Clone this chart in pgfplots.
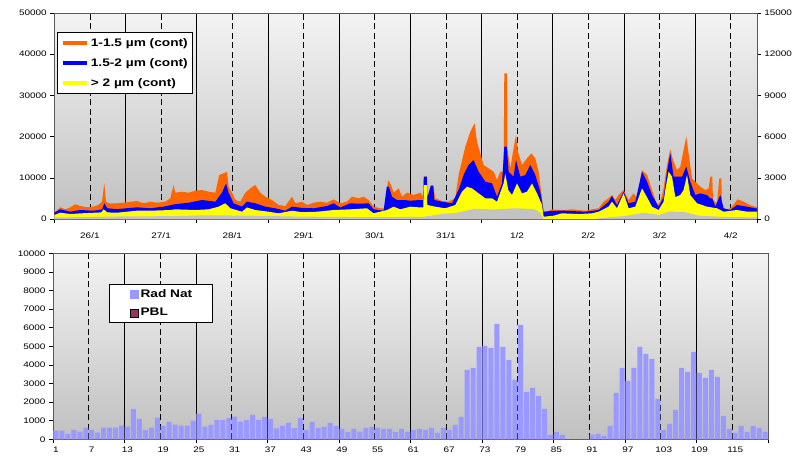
\documentclass[border=0pt]{standalone}
\usepackage{fontspec}
\setmainfont{Liberation Sans}[FakeStretch=1.25]
\usepackage{pgfplots}
\usepackage{pgfplotstable}
\pgfplotsset{compat=1.18}
\definecolor{cor}{HTML}{FF6600}
\definecolor{cbl}{HTML}{0000FF}
\definecolor{cye}{HTML}{FFFF00}
\definecolor{crad}{HTML}{9999FF}
\definecolor{cpbl}{HTML}{993366}
\definecolor{bgbot}{HTML}{C0C0C0}
\definecolor{bgtop}{HTML}{F3F3F3}

\pgfplotstableread{
p v
0 1530
2.7 2180
6 2840
11 2350
16 2840
21 3570
26 3160
32.7 2840
39 3000
44 3400
47.7 4200
50 8660
51.7 4200
54.3 3810
62.7 3810
72.7 4050
82.7 4370
89.3 3810
96 4200
102.7 3950
111 4200
116 5020
119.3 8250
121 6380
127.7 6630
134.3 6380
141 6870
147.7 7040
154.3 6630
161 6380
165 10680
169.3 11090
172.7 11490
174.3 7840
177.7 6380
181 4610
186 4200
191 6380
196 7440
201 8250
206 6380
211 5420
217.7 4610
224.3 3400
231 3150
237.7 5420
241 3810
247.7 4200
252.7 3400
259.3 3950
266 4200
272.7 3950
279.3 4770
286 3810
292.7 4200
297.7 5420
304.3 5020
309.3 5420
314.3 4610
319.3 2990
326 2600
331 2600
333.7 9470
336.7 8250
339.3 6380
344.3 7440
347.7 5420
352.7 6380
359.3 5820
366 6380
369 5420
369.5 10270
372.5 10270
373 5420
376.5 8080
379 8080
381 5020
387.7 4370
394.3 4200
401 5020
404.3 10680
411 17550
416 21190
420.3 23230
422.7 18760
426 15940
429.3 13110
434.3 12300
439.3 11490
442.7 9470
446 11490
449.3 11490
450 35360
452.5 35360
453 17150
456 12300
459.3 17150
461.7 20390
463.7 16340
467.7 13110
472.7 14730
477 15940
481 14730
484.3 11490
487.7 5020
489.3 1770
492.7 1770
497.7 2350
504 2180
511 2180
517.7 2350
524.3 2180
531 2000
537.7 2350
544.3 2600
549.3 4200
554.3 5020
557.7 5820
561 4610
564.3 5820
569.3 7040
574.3 4610
579.3 6230
582.7 5020
587.7 11890
592.7 10680
597.7 7040
602.7 3400
606 4200
609.3 7440
612.7 13110
616 16910
618.7 14320
622.7 11890
626 12690
629.3 16750
632 19980
634.3 15940
637.7 9870
641 9060
646 7840
651 7040
654.3 7440
656 10270
658 10270
658.7 4610
662.7 3810
665 9870
667 9870
667.7 2990
672.7 2180
677.7 2990
683.3 4770
689.3 4200
695.3 3400
701 2990
702.5 2900
}\orangeT

\pgfplotstableread{
p v
0 1530
6 2350
16 1770
26 2180
39 2000
48 2350
50 3810
53 2600
62.7 2400
82.7 2840
96 2600
109 2990
121 3600
134.3 3950
147.7 4610
161 4200
167.7 6380
171.7 8660
174.3 6380
179.3 3810
187.7 2990
192.7 4200
201 3810
211 2990
221 2600
231 2010
237.7 2990
247.7 2700
259.3 2600
272.7 3150
279.3 3810
286 2800
296 3810
306 3700
314.3 3810
319.3 2350
329.3 2010
332.5 7840
334.5 7840
337.7 5420
342.7 4610
349.3 4610
356 4450
366 4610
369 4610
369.5 10270
372.5 10270
373 5020
376.5 8080
379 8080
380 4610
387.7 4200
397.7 3810
404.3 7040
409.3 10680
414.3 13110
419.3 14320
424.3 11490
431 9060
437.7 8660
442.7 5420
447.7 8660
450 17550
452.5 17550
454.3 11490
459.3 10270
461.7 14320
466 10270
471 10680
476 13110
481 10680
486 6630
489.3 1770
499.3 2000
511 2010
531 1770
544.3 2180
554.3 4200
557.7 5580
562.7 3400
569.3 6630
574.3 3810
581 4200
587.7 11490
592.7 9060
597.7 5820
604.3 2990
609.3 5300
612.7 11490
616 15940
619.3 10270
622.7 10270
627.7 10270
632 12690
636 9060
641 5820
646 6230
652.7 5820
656 5020
658 5020
661 2990
666 5820
669.3 2600
676 2180
682.7 3400
692.7 2990
701 2600
702.5 2600
}\blueT

\pgfplotstableread{
p v
0 970
6 1530
16 1210
29 1400
47 1600
49.3 2350
53 1600
62.7 1530
82.7 2010
96 2010
116 2180
121 2350
141 2180
154.3 2350
164.3 2990
171 3810
176 2600
187.7 1770
192.7 2800
201 2180
214.3 1770
224.3 1380
237.7 2010
247.7 1650
262.7 1770
279.3 2180
296 2350
312.7 2600
319.3 1380
332.7 2180
339.3 2990
346 2350
356 2990
366 2800
369 2800
369.5 8250
372.5 8250
373 3400
381 2990
391 2600
401 3400
407.7 6630
412.7 7840
417.7 7440
424.3 6230
431 5020
437.7 5020
442.7 4200
449.3 8660
451 11000
454 7000
457.7 5820
462.7 8660
467.7 6230
472.7 6630
477.7 8660
482.7 6230
487.7 3400
489.3 560
499.3 800
507.7 1380
524.3 1210
537.7 1380
544.3 1770
554.3 2990
557.7 4200
562.7 2600
569.3 6230
574.3 2600
581 2990
587.7 7440
592.7 5300
597.7 2990
604.3 2180
609.3 4200
611 7040
614.3 11490
617.7 10270
621 5300
626 5820
629.3 7040
632.7 10680
636 5820
642.7 3810
652.7 2990
662.7 2600
669.3 1770
682.7 2180
692.7 1770
702.5 1770
}\yellowT

\pgfplotstableread{
p v
0 400
30 450
60 600
120 700
150 900
200 800
240 600
280 500
330 450
370 550
390 1300
400 1400
410 1900
420 2500
440 2300
460 2600
480 2400
486 1500
489 0
540 0
550 300
570 700
590 1500
605 1000
615 1800
630 1700
645 800
670 500
702.5 400
}\lowT

\pgfplotstableread{
k v
1 466
2 466
3 287
4 502
5 412
6 627
7 502
8 358
9 627
10 627
11 627
12 735
13 681
14 1631
15 1093
16 502
17 627
18 1165
19 717
20 932
21 788
22 735
23 735
24 986
25 1380
26 681
27 770
28 1039
29 1039
30 1147
31 1219
32 950
33 1039
34 1308
35 1039
36 1200
37 1093
38 591
39 717
40 878
41 609
42 1147
43 502
44 932
45 609
46 663
47 878
48 717
49 556
50 394
51 556
52 394
53 609
54 663
55 609
56 556
57 556
58 394
59 556
60 394
61 502
62 556
63 502
64 609
65 340
66 609
67 502
68 770
69 1200
70 3727
71 3835
72 4964
73 5018
74 4910
75 6200
76 4964
77 4265
78 3190
79 6147
80 2545
81 2760
82 2330
83 1631
84 233
85 394
86 233
87 0
88 0
89 0
90 0
91 233
92 287
93 179
94 717
95 2491
96 3835
97 3136
98 3835
99 4964
100 4588
101 4319
102 2168
103 502
104 824
105 1577
106 3835
107 3620
108 4695
109 3566
110 3297
111 3727
112 3351
113 1254
114 556
115 340
116 717
117 394
118 717
119 609
120 394
}\barsT

\pgfplotsset{
  mystyle/.style={
    scale only axis,
    tick align=outside,
    major tick length=4bp,
    minor tick length=4bp,
    /pgf/number format/assume math mode=true,
    /pgf/number format/1000 sep={},
    scaled y ticks=false,
    tick label style={font=\fontsize{8}{9.6}\selectfont},
    axis line style={black!65},
    tick style={black, line width=0.5bp},
    major x tick style={draw=none},
    xtick pos=bottom,
  },
  bgshade/.style={axis background/.style={top color=bgtop, bottom color=bgbot}},
}

\begin{document}
\begin{tikzpicture}
\useasboundingbox (0bp,0bp) rectangle (800bp,-456bp);

% ---------- top chart ----------
\begin{axis}[mystyle, bgshade,
  at={(54.3bp,-219bp)}, anchor=south west,
  width=702.5bp, height=206bp,
  xmin=0, xmax=702.5, ymin=0, ymax=50000,
  ytick={0,10000,20000,30000,40000,50000},
  ytick pos=left,
  xtick={35.6,106.8,178,249.2,320.4,391.6,462.8,534,605.2,676.4},
  xticklabels={26/1,27/1,28/1,29/1,30/1,31/1,1/2,2/2,3/2,4/2},
  xticklabel style={yshift=-6bp},
  minor xtick={0,71.2,142.4,213.6,284.8,356,427.2,498.4,569.6,640.8,702.5},
  xmajorgrids, xminorgrids,
  major x grid style={black, line width=0.6bp, dash pattern=on 6bp off 3.5bp},
  minor x grid style={black, line width=0.6bp},
  legend style={at={(0.0045,0.908)}, anchor=north west, draw=black, fill=white,
    font=\bfseries\fontsize{11}{13}\selectfont, row sep=6.5bp,
    inner xsep=3bp, inner ysep=4bp, line width=0.8bp},
  legend cell align=left,
]
\addlegendimage{legend image code/.code={\draw[cor, line width=4bp] (0bp,0bp) -- (24bp,0bp);}}
\addlegendentry{1-1.5 µm (cont)}
\addlegendimage{legend image code/.code={\draw[cbl, line width=4bp] (0bp,0bp) -- (24bp,0bp);}}
\addlegendentry{1.5-2 µm (cont)}
\addlegendimage{legend image code/.code={\draw[cye, line width=4bp] (0bp,0bp) -- (24bp,0bp);}}
\addlegendentry{> 2 µm (cont)}
\addplot[fill=cor, draw=none, forget plot] table[x=p, y=v] {\orangeT} \closedcycle;
\addplot[fill=cbl, draw=none, forget plot] table[x=p, y=v] {\blueT} \closedcycle;
\addplot[fill=cye, draw=none, forget plot] table[x=p, y=v] {\yellowT} \closedcycle;
\addplot[fill=bgbot!96!white, draw=none, forget plot] table[x=p, y=v] {\lowT} \closedcycle;
\end{axis}

\begin{axis}[mystyle,
  at={(54.3bp,-219bp)}, anchor=south west,
  width=702.5bp, height=206bp,
  xmin=0, xmax=702.5, ymin=0, ymax=15000,
  ytick={0,3000,6000,9000,12000,15000},
  axis x line=none, axis y line*=right,
]
\end{axis}

% ---------- bottom chart ----------
\begin{axis}[mystyle, bgshade,
  at={(53bp,-439.3bp)}, anchor=south west,
  width=715bp, height=186bp,
  xmin=0.5, xmax=120.5, ymin=0, ymax=10000,
  ytick={0,1000,...,10000},
  ytick pos=left,
  xtick={1,7,...,115},
  xticklabel style={yshift=0bp},
  minor xtick={0.5,12.5,...,120.5},
  xminorgrids,
  minor x grid style={black, line width=0.6bp},
  extra x ticks={6.5,18.5,...,114.5},
  extra x tick labels={},
  extra x tick style={grid=major, major tick length=0pt},
  major x grid style={black, line width=0.6bp, dash pattern=on 6bp off 3.5bp},
  legend style={at={(0.078,0.835)}, anchor=north west, draw=black, fill=white,
    font=\bfseries\fontsize{11}{13}\selectfont, row sep=5.5bp,
    inner xsep=3bp, inner ysep=3bp, line width=0.8bp},
  legend cell align=left,
]
\addlegendimage{legend image code/.code={\path[draw=none] (0bp,-4bp) rectangle (18bp,4bp); \fill[crad] (18bp,-4bp) rectangle (26bp,4bp);}}
\addlegendentry{Rad Nat\rule{15bp}{0pt}}
\addlegendimage{legend image code/.code={\path[draw=none] (0bp,-4bp) rectangle (18bp,4bp); \draw[fill=cpbl, draw=black, line width=0.6bp] (18bp,-4bp) rectangle (26bp,4bp);}}
\addlegendentry{PBL}
\addplot[ybar, bar width=5bp, fill=crad, draw=none, forget plot] table[x=k, y=v] {\barsT};
\end{axis}
\end{tikzpicture}
\end{document}
